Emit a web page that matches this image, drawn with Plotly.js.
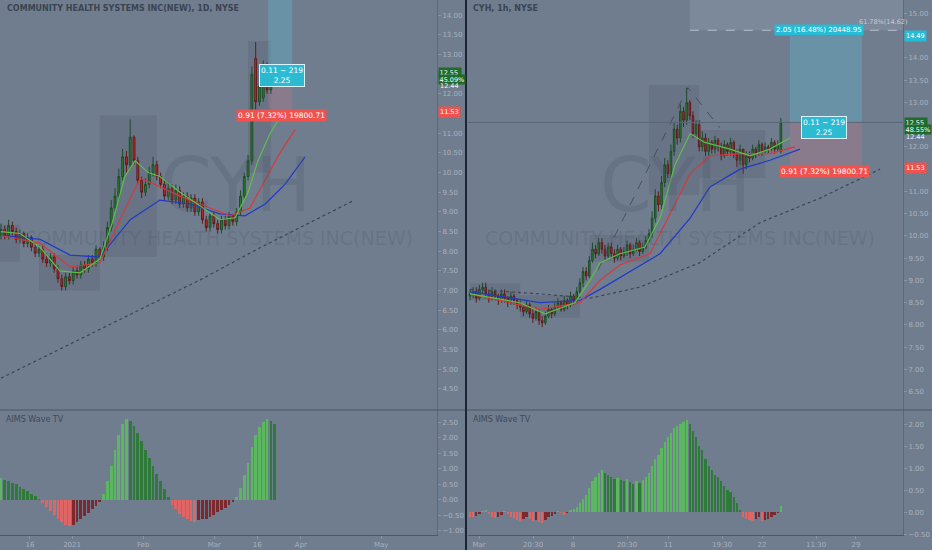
<!DOCTYPE html>
<html><head><meta charset="utf-8">
<script src="https://cdn.plot.ly/plotly-3.0.1.min.js"></script>
<style>html,body{margin:0;padding:0;background:#707d8f;}#chart{width:932px;height:550px;}</style>
</head><body><div id="chart"></div>
<script>
// ---------- LEFT PANEL (1D) ----------
const leftOpen = [8.40,8.55,8.40,8.65,8.50,8.30,8.45,8.20,8.35,8.10,7.95,8.05,7.80,7.70,7.85,7.55,7.30,7.10,7.35,7.25,7.50,7.40,7.65,7.55,7.80,7.70,8.05,7.85,8.10,8.60,9.10,9.40,9.90,10.40,10.20,10.90,10.30,9.80,9.50,9.70,10.00,10.20,9.90,9.70,9.40,9.60,9.30,9.55,9.20,9.40,9.10,9.35,9.00,9.25,8.80,8.60,8.90,8.70,8.55,8.80,8.65,8.90,8.75,9.00,9.40,9.90,10.30,12.90,11.80,11.90,12.70,12.10,12.40];
const leftHigh = [8.70,8.65,8.80,8.75,8.60,8.55,8.50,8.45,8.40,8.20,8.15,8.15,7.95,7.95,7.95,7.65,7.40,7.45,7.45,7.60,7.60,7.75,7.75,7.90,7.90,8.15,8.10,8.25,8.75,9.30,9.60,10.10,10.60,10.55,11.35,10.95,10.40,9.90,9.85,10.15,10.40,10.30,10.00,9.80,9.75,9.70,9.70,9.65,9.50,9.50,9.45,9.45,9.35,9.35,8.90,9.00,9.00,8.80,8.90,8.90,9.00,8.95,9.10,9.55,10.00,10.45,12.70,13.32,12.40,12.85,12.80,12.70,12.65];
const leftLow = [8.30,8.30,8.30,8.40,8.20,8.20,8.10,8.10,8.00,7.85,7.85,7.70,7.60,7.60,7.45,7.20,7.00,7.00,7.15,7.15,7.30,7.30,7.45,7.45,7.60,7.60,7.75,7.75,8.00,8.50,9.00,9.30,9.80,10.00,10.10,10.20,9.70,9.35,9.40,9.60,9.90,9.80,9.60,9.30,9.30,9.20,9.20,9.10,9.10,9.00,9.00,8.90,8.90,8.70,8.50,8.50,8.60,8.45,8.45,8.55,8.55,8.65,8.65,8.90,9.30,9.80,10.20,11.40,11.70,11.80,12.00,12.00,12.35];
const leftClose = [8.55,8.40,8.65,8.50,8.30,8.45,8.20,8.35,8.10,7.95,8.05,7.80,7.70,7.85,7.55,7.30,7.10,7.35,7.25,7.50,7.40,7.65,7.55,7.80,7.70,8.05,7.85,8.10,8.60,9.10,9.40,9.90,10.40,10.20,10.90,10.30,9.80,9.50,9.70,10.00,10.20,9.90,9.70,9.40,9.60,9.30,9.55,9.20,9.40,9.10,9.35,9.00,9.25,8.80,8.60,8.90,8.70,8.55,8.80,8.65,8.90,8.75,9.00,9.40,9.90,10.30,12.50,11.80,12.20,12.70,12.10,12.60,12.55];
const leftWave = [0.70,0.65,0.62,0.55,0.50,0.42,0.35,0.28,0.20,0.12,0.02,-0.10,-0.22,-0.35,-0.48,-0.60,-0.72,-0.82,-0.85,-0.80,-0.72,-0.62,-0.52,-0.42,-0.30,-0.18,-0.05,0.20,0.60,1.10,1.60,2.10,2.45,2.60,2.55,2.40,2.15,1.90,1.60,1.35,1.10,0.85,0.60,0.35,0.10,-0.15,-0.30,-0.45,-0.55,-0.62,-0.68,-0.70,-0.65,-0.62,-0.60,-0.55,-0.48,-0.40,-0.32,-0.25,-0.15,-0.05,0.10,0.40,0.80,1.20,1.70,2.10,2.35,2.50,2.60,2.55,2.45];
// moving averages read at sparse bar positions
const leftFastX = [0,5,10.3,15.5,20.8,26,29.2,32.6,35.3,38.7,41.8,47.1,52.4,57.6,61.6,65,67.6,70.8,74.7];
const leftFastY = [8.5,8.45,8.1,7.5,7.45,7.8,8.7,9.9,10.3,10.0,9.9,9.5,9.15,8.8,8.85,9.5,10.3,11.0,11.6];
const leftMidX = [0,10.3,18.2,26,31.3,36.6,40.5,47.1,52.4,60.3,65.5,69.5,73.4,77.4];
const leftMidY = [8.4,8.2,7.6,7.7,8.8,9.85,9.7,9.4,9.2,8.9,9.1,9.8,10.5,11.1];
const leftSlowX = [0,10.3,18.2,26,34,41.8,49.7,57.6,64.2,69.5,74.7,80];
const leftSlowY = [8.4,8.3,7.9,7.85,8.8,9.3,9.2,8.95,8.9,9.2,9.7,10.4];
const leftLongX = [0,26,52.4,68,93];
const leftLongY = [4.77,6.0,7.27,8.08,9.3];
const leftTickVals = [7.6,18.7,37.4,56.1,67.4,78.9,100];
const leftTickText = ['16','2021','Feb','Mar','16','Apr','May'];
const leftPriceTicks = [4.5,5,5.5,6,6.5,7,7.5,8,8.5,9,9.5,10,10.5,11,12,13,13.5,14];
const leftWaveTicks = [-1,-0.5,0,0.5,1,1.5,2,2.5];
// range boxes [startBar, endBar, low, high]
const leftBoxes = [[-1,5,7.73,8.67],[10,26,7.0,7.9],[26,41,7.85,11.45],[65,71,10.0,13.35]];

// ---------- RIGHT PANEL (1h) ----------
const rightOpen = [8.65,8.70,8.75,8.60,8.80,8.85,8.70,8.60,8.75,8.65,8.55,8.70,8.60,8.50,8.65,8.55,
8.45,8.40,8.30,8.45,8.25,8.15,8.30,8.10,8.05,
8.20,8.35,8.25,8.40,8.50,8.35,8.55,8.45,8.65,8.55,
8.75,8.95,9.20,9.10,9.45,9.70,9.60,
9.85,9.70,9.55,9.75,9.60,9.50,9.70,9.55,9.65,9.80,9.60,9.70,9.85,9.65,9.75,9.90,
10.05,10.40,10.90,10.70,11.20,11.60,11.40,
11.90,12.40,12.20,12.80,12.60,13.00,
12.70,12.30,12.50,12.00,12.20,
11.90,12.10,11.95,12.15,12.00,11.80,12.05,11.90,12.10,11.85,11.70,11.95,11.60,11.80,11.75,
11.95,11.85,12.05,11.90,12.00,11.95,12.10,11.95,
11.90];
const rightHigh = [8.80,8.85,8.85,8.90,8.95,8.95,8.80,8.85,8.80,8.70,8.80,8.80,8.65,8.75,8.70,8.60,
8.55,8.45,8.55,8.50,8.35,8.40,8.35,8.20,8.30,
8.45,8.40,8.50,8.60,8.55,8.65,8.60,8.75,8.70,8.85,
9.05,9.30,9.30,9.55,9.85,9.80,9.95,
9.95,9.80,9.85,9.85,9.70,9.80,9.75,9.75,9.90,9.85,9.80,9.95,9.90,9.85,10.00,10.15,
10.55,11.05,11.00,11.35,11.75,11.70,12.05,
12.55,12.50,12.95,12.90,13.33,13.05,
12.80,12.60,12.60,12.35,12.30,
12.20,12.15,12.25,12.20,12.10,12.15,12.10,12.20,12.15,11.95,12.05,11.95,11.90,11.90,12.05,
12.00,12.15,12.10,12.10,12.05,12.20,12.15,12.15,
12.65];
const rightLow = [8.55,8.60,8.50,8.55,8.70,8.60,8.50,8.55,8.55,8.45,8.50,8.50,8.40,8.45,8.45,8.35,
8.30,8.20,8.25,8.15,8.05,8.10,8.00,7.95,8.00,
8.15,8.15,8.20,8.35,8.30,8.30,8.35,8.40,8.45,8.50,
8.70,8.85,9.00,9.05,9.40,9.50,9.55,
9.60,9.45,9.50,9.50,9.40,9.45,9.45,9.50,9.55,9.50,9.55,9.65,9.55,9.60,9.70,9.85,
9.95,10.30,10.55,10.60,11.10,11.30,11.30,
11.80,12.05,12.10,12.45,12.50,12.60,
12.20,12.20,11.90,11.90,11.80,
11.80,11.85,11.85,11.90,11.70,11.75,11.80,11.80,11.75,11.55,11.60,11.40,11.50,11.65,11.70,
11.75,11.80,11.80,11.85,11.85,11.90,11.85,11.90,
11.85];
const rightClose = [8.70,8.75,8.60,8.80,8.85,8.70,8.60,8.75,8.65,8.55,8.70,8.60,8.50,8.65,8.55,8.45,
8.40,8.30,8.45,8.25,8.15,8.30,8.10,8.05,8.20,
8.35,8.25,8.40,8.50,8.35,8.55,8.45,8.65,8.55,8.75,
8.95,9.20,9.10,9.45,9.70,9.60,9.85,
9.70,9.55,9.75,9.60,9.50,9.70,9.55,9.65,9.80,9.60,9.70,9.85,9.65,9.75,9.90,10.05,
10.40,10.90,10.70,11.20,11.60,11.40,11.90,
12.40,12.20,12.80,12.60,13.00,12.70,
12.30,12.50,12.00,12.20,11.90,
12.10,11.95,12.15,12.00,11.80,12.05,11.90,12.10,11.85,11.70,11.95,11.60,11.80,11.75,11.95,
11.85,12.05,11.90,12.00,11.95,12.10,11.95,12.05,
12.55];
const rightWave = [-0.10,-0.12,-0.08,-0.05,0.03,0.05,-0.04,-0.10,-0.14,-0.10,-0.06,0.02,-0.05,-0.10,-0.14,-0.18,
-0.20,-0.15,-0.10,-0.15,-0.20,-0.18,-0.22,-0.25,-0.18,
-0.12,-0.08,-0.04,0.02,-0.03,-0.06,-0.02,0.04,0.08,0.12,
0.20,0.30,0.40,0.55,0.70,0.80,0.90,
0.95,0.90,0.85,0.80,0.75,0.78,0.72,0.70,0.75,0.68,0.65,0.70,0.66,0.72,0.80,0.90,
1.05,1.20,1.30,1.45,1.60,1.70,1.80,
1.90,1.95,2.00,2.05,2.10,2.00,
1.85,1.70,1.50,1.40,1.20,
1.05,0.95,0.85,0.80,0.70,0.60,0.50,0.45,0.35,0.20,0.05,-0.10,-0.15,-0.18,-0.20,
-0.15,-0.12,-0.20,-0.18,-0.15,-0.10,-0.06,-0.03,
0.15];
const rightFastX = [0,15.9,23.9,33.4,38.2,41.4,47.8,55.7,60.5,65.3,70.1,74.8,82.8,89.2,95.5,101.9];
const rightFastY = [8.7,8.5,8.25,8.5,9.0,9.4,9.6,9.75,10.4,11.6,12.3,12.1,11.95,11.8,11.95,12.2];
const rightMidX = [0,22.3,35,41.4,47.8,57.3,63.7,70.1,76.4,86,95.5,103.5];
const rightMidY = [8.7,8.35,8.5,9.0,9.35,9.6,10.5,11.4,11.8,11.85,11.85,12.0];
const rightSlowX = [0,22.3,35,41.4,51,60.5,70.1,76.4,86,95.5,105.1];
const rightSlowY = [8.75,8.5,8.55,8.8,9.2,9.6,10.4,11.1,11.5,11.7,11.95];
const rightLongX = [0,22.3,38.2,54.1,73.2,92.4,111.5,130.6];
const rightLongY = [8.8,8.7,8.6,8.85,9.4,10.3,10.85,11.5];
const rightTrendX = [40.8,69.4,79.6];
const rightTrendY = [9.24,13.33,12.43];
const rightTickVals = [2.9,20.1,32.8,50,63.1,80.3,93,110.2,122.9];
const rightTickText = ['Mar','20:30','8','20:30','11','19:30','22','11:30','29'];
const rightPriceTicks = [6.5,7,7.5,8,8.5,9,9.5,10,10.5,11,12,13,13.5,14,15];
const rightWaveTicks = [-0.5,0,0.5,1,1.5,2];
const rightBoxes = [[0,16,8.56,8.94],[16,35,8.16,8.67],[38,57,9.42,10.02],[57,73,10.92,13.39],[73,94,11.30,12.38]];

// trade levels
const entryPrice = 12.44, targetPrice = 14.49, stopPrice = 11.53, lastPrice = 12.55, fibLevel = 14.62;

// ---------- build ----------
const idx = n => Array.from({length:n}, (_, i) => i);
const GREEN_UP = '#2e7d32', RED_DN = '#c62828';
function waveColors(v) {
  return v.map((val, i) => {
    const prev = i > 0 ? v[i-1] : val;
    if (val >= 0) return val >= prev ? '#5cb860' : '#2f7a3a';
    return val <= prev ? '#e06666' : '#7a2a2e';
  });
}
function candle(xa, ya, o, h, l, c) {
  return {type:'candlestick', xaxis:xa, yaxis:ya, x:idx(o.length), open:o, high:h, low:l, close:c,
    increasing:{line:{color:'#1d4d26', width:1}, fillcolor:GREEN_UP},
    decreasing:{line:{color:'#5e1c1c', width:1}, fillcolor:RED_DN},
    whiskerwidth:0, hoverinfo:'skip', showlegend:false};
}
function line(xa, ya, x, y, color, dash, w) {
  return {type:'scatter', mode:'lines', xaxis:xa, yaxis:ya, x:x, y:y,
    line:{color:color, width:w||1.2, dash:dash||'solid'}, hoverinfo:'skip', showlegend:false};
}
function bars(xa, ya, v) {
  return {type:'bar', xaxis:xa, yaxis:ya, x:idx(v.length), y:v, width:0.72,
    marker:{color:waveColors(v), line:{width:0}}, hoverinfo:'skip', showlegend:false};
}

const traces = [
  line('x','y', leftLongX, leftLongY, '#3b4552', 'dot', 1.2),
  line('x','y', leftSlowX, leftSlowY, '#2039c8'),
  line('x','y', leftMidX, leftMidY, '#d63a3a'),
  line('x','y', leftFastX, leftFastY, '#5dc04a'),
  candle('x','y', leftOpen, leftHigh, leftLow, leftClose),
  bars('x','y3', leftWave),
  line('x2','y2', rightLongX, rightLongY, '#3b4552', 'dot', 1.2),
  line('x2','y2', rightTrendX, rightTrendY, '#3b4552', 'dash', 0.8),
  line('x2','y2', rightSlowX, rightSlowY, '#2039c8'),
  line('x2','y2', rightMidX, rightMidY, '#d63a3a'),
  line('x2','y2', rightFastX, rightFastY, '#5dc04a'),
  candle('x2','y2', rightOpen, rightHigh, rightLow, rightClose),
  bars('x2','y4', rightWave)
];

const W = 903; // plot width (932 - right margin)
const axFont = {family:'DejaVu Sans, sans-serif', size:7, color:'#a8b1be'};
const yCommon = {side:'right', showgrid:false, zeroline:false, showline:true, linecolor:'#5d6878', linewidth:1,
  ticks:'outside', ticklen:3, tickcolor:'#8a95a4', tickfont:axFont, tickformat:'.2f', fixedrange:true, tickmode:'array'};
const xCommon = {showgrid:false, zeroline:false, showline:true, linecolor:'#4d5866', ticks:'outside', ticklen:3,
  tickcolor:'#8a95a4', tickfont:axFont, rangeslider:{visible:false}, fixedrange:true, tickmode:'array'};
const priceDom = [125/535, 1], waveDom = [0, 125/535];

const shapes = [];
leftBoxes.forEach(b => shapes.push({type:'rect', xref:'x', yref:'y', x0:b[0], x1:b[1], y0:b[2], y1:b[3],
  fillcolor:'rgba(60,70,85,0.16)', line:{width:0}, layer:'below'}));
rightBoxes.forEach(b => shapes.push({type:'rect', xref:'x2', yref:'y2', x0:b[0], x1:b[1], y0:b[2], y1:b[3],
  fillcolor:'rgba(60,70,85,0.16)', line:{width:0}, layer:'below'}));
// position tools
shapes.push({type:'rect', xref:'x', yref:'y', x0:70.3, x1:76.6, y0:entryPrice, y1:targetPrice, fillcolor:'rgba(90,200,225,0.28)', line:{width:0}, layer:'below'});
shapes.push({type:'rect', xref:'x', yref:'y', x0:70.3, x1:76.6, y0:stopPrice, y1:entryPrice, fillcolor:'rgba(230,120,130,0.22)', line:{width:0}, layer:'below'});
shapes.push({type:'rect', xref:'x2', yref:'y2', x0:70, x1:140, y0:fibLevel, y1:15.4, fillcolor:'rgba(175,185,198,0.2)', line:{width:0}, layer:'below'});
shapes.push({type:'rect', xref:'x2', yref:'y2', x0:101.9, x1:124.8, y0:lastPrice, y1:targetPrice, fillcolor:'rgba(90,200,225,0.28)', line:{width:0}, layer:'below'});
shapes.push({type:'rect', xref:'x2', yref:'y2', x0:101.9, x1:124.8, y0:stopPrice, y1:lastPrice, fillcolor:'rgba(230,120,130,0.22)', line:{width:0}, layer:'below'});
shapes.push({type:'line', xref:'x2', yref:'y2', x0:70, x1:140, y0:fibLevel, y1:fibLevel, line:{color:'#b8c0cc', width:1, dash:'dash'}});
shapes.push({type:'line', xref:'x2 domain', yref:'y2', x0:0, x1:1, y0:lastPrice, y1:lastPrice, line:{color:'#5a6575', width:1}});
// pane separators
shapes.push({type:'line', xref:'paper', yref:'paper', x0:0, x1:1.04, y0:125/535, y1:125/535, line:{color:'#4a5564', width:1}});
shapes.push({type:'line', xref:'paper', yref:'paper', x0:466/W, x1:466/W, y0:-0.03, y1:1, line:{color:'#1c2532', width:2}});

const ann = [];
function txt(xref, yref, x, y, text, opts) {
  ann.push(Object.assign({xref:xref, yref:yref, x:x, y:y, text:text, showarrow:false}, opts));
}
const tFont = {family:'DejaVu Sans, sans-serif', size:8, color:'#3a4452'};
txt('paper','paper', 5/W, 1-9/535, '<b>COMMUNITY HEALTH SYSTEMS INC(NEW), 1D, NYSE</b>', {xanchor:'left', yanchor:'middle', font:tFont});
txt('paper','paper', 471/W, 1-9/535, '<b>CYH, 1h, NYSE</b>', {xanchor:'left', yanchor:'middle', font:tFont});
txt('paper','paper', 4/W, (535-419)/535, 'AIMS Wave TV', {xanchor:'left', yanchor:'middle', font:{family:'DejaVu Sans, sans-serif', size:8, color:'#3f4957'}});
txt('paper','paper', 471/W, (535-419)/535, 'AIMS Wave TV', {xanchor:'left', yanchor:'middle', font:{family:'DejaVu Sans, sans-serif', size:8, color:'#3f4957'}});
// watermarks
const wm = {family:'DejaVu Sans, sans-serif', color:'rgba(70,80,95,0.22)'};
txt('x','y', 61.6, 9.68, 'CYH', {font:Object.assign({size:74}, wm)});
txt('x','y', 57, 8.34, 'COMMUNITY HEALTH SYSTEMS INC(NEW)', {font:Object.assign({size:19}, wm)});
txt('x2','y2', 65.3, 11.15, 'CYH', {font:Object.assign({size:74}, wm)});
txt('x2','y2', 66.9, 9.96, 'COMMUNITY HEALTH SYSTEMS INC(NEW)', {font:Object.assign({size:19}, wm)});
// trade labels
const lblFont = {family:'DejaVu Sans, sans-serif', size:7.5, color:'#ffffff'};
txt('x','y', 73.9, 12.46, '0.11 ~ 219<br>2.25', {font:lblFont, bgcolor:'rgba(40,190,215,0.95)', bordercolor:'#d8f4fa', borderwidth:1, borderpad:1});
txt('x','y', 73.9, 11.44, '0.91 (7.32%) 19800.71', {font:lblFont, bgcolor:'#ef5350', borderpad:1});
txt('x2','y2', 112.7, 12.43, '0.11 ~ 219<br>2.25', {font:lblFont, bgcolor:'rgba(40,190,215,0.95)', bordercolor:'#d8f4fa', borderwidth:1, borderpad:1});
txt('x2','y2', 113, 11.44, '0.91 (7.32%) 19800.71', {font:lblFont, bgcolor:'#ef5350', borderpad:1});
txt('x2','y2', 111.2, 14.62, '2.05 (16.48%) 20448.95', {font:{family:'DejaVu Sans, sans-serif', size:7, color:'#ffffff'}, bgcolor:'#26bcd6', borderpad:1});
txt('x2','y2', 131.5, 14.80, '61.78%(14.62)', {font:{family:'DejaVu Sans, sans-serif', size:6.5, color:'#c3cad4'}});
// axis price tags
const tagFont = {family:'DejaVu Sans, sans-serif', size:6.5, color:'#ffffff'};
function tags(xpos, yref, pct, withTarget) {
  if (withTarget) txt('paper', yref, xpos, targetPrice, '14.49', {xanchor:'left', font:tagFont, bgcolor:'#26bcd6', borderpad:1});
  txt('paper', yref, xpos, lastPrice, '12.55 ', {xanchor:'left', font:tagFont, bgcolor:'#1f6b2a', borderpad:0.5});
  txt('paper', yref, xpos, lastPrice, pct, {xanchor:'left', yshift:-7.5, font:tagFont, bgcolor:'#1f6b2a', borderpad:0.5});
  txt('paper', yref, xpos, entryPrice, '12.44', {xanchor:'left', yshift:-9.5, font:{family:'DejaVu Sans, sans-serif', size:6.5, color:'#f2f4f7'}});
  txt('paper', yref, xpos, stopPrice, '11.53', {xanchor:'left', font:tagFont, bgcolor:'#ef5350', borderpad:1});
}
tags(438/W, 'y', '45.09%', false);
tags(904/W, 'y2', '48.55%', true);

const layout = {
  width:932, height:550, margin:{l:0, r:29, t:0, b:15},
  paper_bgcolor:'#707d8f', plot_bgcolor:'#707d8f', showlegend:false, bargap:0,
  xaxis:Object.assign({}, xCommon, {domain:[0, 437/W], range:[-0.26, 114.7], anchor:'y3', tickvals:leftTickVals, ticktext:leftTickText}),
  xaxis2:Object.assign({}, xCommon, {domain:[468/W, 1], range:[-0.64, 137.9], anchor:'y4', tickvals:rightTickVals, ticktext:rightTickText}),
  yaxis:Object.assign({}, yCommon, {domain:priceDom, anchor:'x', range:[3.96, 14.39], tickvals:leftPriceTicks}),
  yaxis2:Object.assign({}, yCommon, {domain:priceDom, anchor:'x2', range:[6.09, 15.30], tickvals:rightPriceTicks}),
  yaxis3:Object.assign({}, yCommon, {domain:waveDom, anchor:'x', range:[-1.13, 2.90], tickvals:leftWaveTicks}),
  yaxis4:Object.assign({}, yCommon, {domain:waveDom, anchor:'x2', range:[-0.52, 2.32], tickvals:rightWaveTicks}),
  shapes:shapes, annotations:ann
};
Plotly.newPlot('chart', traces, layout, {staticPlot:true, displayModeBar:false});
</script></body></html>
